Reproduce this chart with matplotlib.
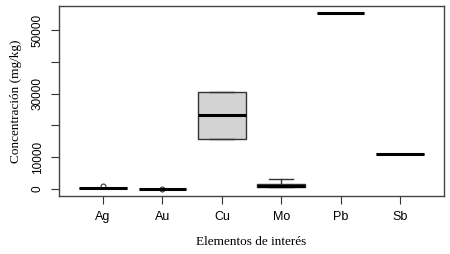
import matplotlib
matplotlib.use("Agg")
from matplotlib import pyplot as plt

# valores (mg/kg)
elementos = ["Ag", "Au", "Cu", "Mo", "Pb", "Sb"]
q1 = [250, 0, 15700, 700, 55300, 11000]
mediana = [300, 50, 23300, 1100, 55300, 11000]
q3 = [350, 100, 30500, 1600, 55300, 11000]
bigote_bajo = [250, 0, 15700, 700, 55300, 11000]
bigote_alto = [350, 100, 30500, 3100, 55300, 11000]
atipicos = [[950], [0], [], [], [], []]

stats = []
for i, e in enumerate(elementos):
    stats.append(dict(label=e, q1=q1[i], med=mediana[i], q3=q3[i],
                      whislo=bigote_bajo[i], whishi=bigote_alto[i], fliers=atipicos[i]))

fig = plt.figure(figsize=(4.5, 2.54), dpi=100)
ax = fig.add_axes([0.131, 0.228, 0.856, 0.748])

ax.bxp(stats, positions=range(1, 7), widths=0.8, patch_artist=True,
       boxprops=dict(facecolor="#d3d3d3", edgecolor="#333333", linewidth=1),
       medianprops=dict(color="black", linewidth=2.2, solid_capstyle="butt"),
       whiskerprops=dict(color="#333333", linewidth=1, linestyle="-"),
       capprops=dict(color="#333333", linewidth=1),
       capwidths=0.4,
       flierprops=dict(marker="o", markersize=3.5, markerfacecolor="none",
                       markeredgecolor="#333333", markeredgewidth=0.8))

ax.set_xlim(0.26, 6.74)
ax.set_ylim(-2214, 57564)
ax.set_yticks([0, 10000, 20000, 30000, 40000, 50000])
ax.set_yticklabels(["0", "10000", "", "30000", "", "50000"], rotation=90, va="center",
                   family="Liberation Sans", fontsize=8.5)
ax.set_xticks(range(1, 7))
ax.set_xticklabels(elementos, family="Liberation Sans", fontsize=9)
ax.tick_params(axis="both", length=6, width=0.8, color="#333333")
ax.tick_params(axis="x", pad=5)
ax.tick_params(axis="y", pad=5)
for s in ax.spines.values():
    s.set_color("#444444")
    s.set_linewidth(1)

ax.set_ylabel("Concentración (mg/kg)", family="Liberation Serif", fontsize=9.5, labelpad=7)
ax.set_xlabel("Elementos de interés", family="Liberation Serif", fontsize=9.5, labelpad=9)

fig.savefig("out.png", dpi=100)
